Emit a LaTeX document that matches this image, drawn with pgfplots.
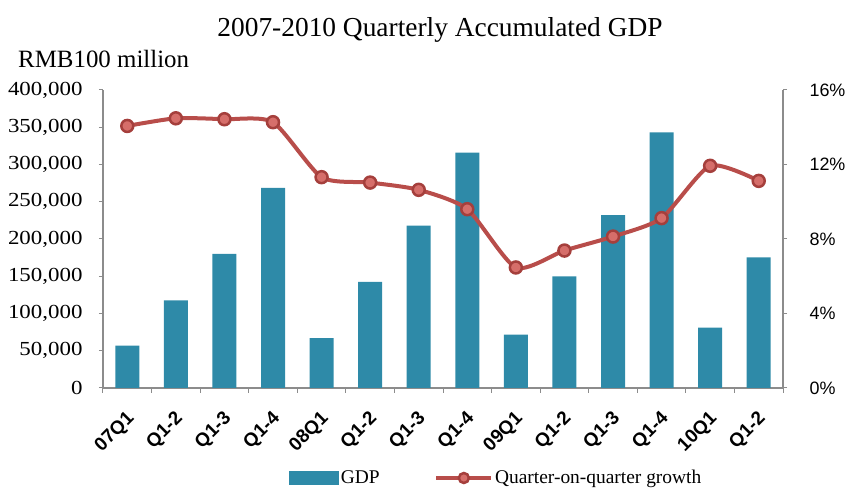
\documentclass[border=0pt]{standalone}
\usepackage{pgfplots}
\pgfplotsset{compat=1.18}
\usepackage{fontspec}
\setmainfont{Liberation Serif}
\setsansfont{Liberation Sans}
\newfontfamily\tickfont{Liberation Serif}[FakeStretch=1.15]
\definecolor{barcol}{HTML}{2E8AA8}
\definecolor{linecol}{HTML}{B84D4A}
\definecolor{markcol}{HTML}{A53F3C}
\definecolor{markfill}{HTML}{D66E6A}
\definecolor{axcol}{HTML}{8C8C8C}
\begin{document}
\begin{tikzpicture}[x=1bp,y=1bp]
\useasboundingbox (-103,-108) rectangle (746,388);
\begin{axis}[
  at={(0,0)}, anchor=south west,
  scale only axis, width=680bp, height=298bp,
  xmin=-0.5, xmax=13.5, ymin=0, ymax=400000,
  axis y line*=left, axis x line*=bottom,
  axis line style={axcol, line width=1.2bp, -},
  xtick={0,...,13},
  xticklabels={07Q1,Q1-2,Q1-3,Q1-4,08Q1,Q1-2,Q1-3,Q1-4,09Q1,Q1-2,Q1-3,Q1-4,10Q1,Q1-2},
  minor xtick={-0.5,0.5,...,13.5},
  major x tick style={draw=none},
  minor tick length=5bp,
  every minor tick/.style={axcol, line width=1bp},
  tick align=outside,
  ytick={0,50000,100000,150000,200000,250000,300000,350000,400000},
  yticklabels={0,{50,000},{100,000},{150,000},{200,000},{250,000},{300,000},{350,000},{400,000}},
  major tick length=4bp,
  every tick/.style={axcol, line width=1bp},
  scaled y ticks=false,
  yticklabel style={font=\tickfont\fontsize{20}{22}\selectfont, xshift=-13bp},
  xticklabel style={font=\sffamily\bfseries\fontsize{19}{21}\selectfont, rotate=45, anchor=east, inner sep=0pt, xshift=-14bp, yshift=-20bp},
  clip=false,
  legend style={at={(0.578,-0.302)}, anchor=center, draw=none, fill=none,
    legend columns=2, font=\fontsize{19.5}{21}\selectfont,
    /tikz/every even column/.append style={column sep=53bp},
    inner sep=0pt},
  legend cell align=left,
]
\addplot[ybar, bar width=24bp, fill=barcol, draw=none,
  legend image code/.code={\fill[barcol] (0bp,-7bp) rectangle (50bp,7bp);}]
  coordinates {(0,56800) (1,117600) (2,179900) (3,268500) (4,67000) (5,142300) (6,217900) (7,316000) (8,71500) (9,149800) (10,232000) (11,343000) (12,81000) (13,175300)};
\addlegendentry{GDP}
\addlegendimage{legend image code/.code={
  \draw[linecol, line width=3.5bp] (0bp,0bp) -- (55bp,0bp);
  \draw[markcol, fill=markfill, line width=2.5bp] (27.5bp,0bp) circle (5bp);}}
\addlegendentry{Quarter-on-quarter growth}
\end{axis}
\begin{axis}[
  at={(0,0)}, anchor=south west,
  scale only axis, width=680bp, height=298bp,
  xmin=-0.5, xmax=13.5, ymin=0, ymax=16,
  axis y line*=right, axis x line=none,
  axis line style={axcol, line width=1.2bp, -},
  ytick={0,4,8,12,16},
  yticklabels={0\%,4\%,8\%,12\%,16\%},
  tick align=outside,
  major tick length=4bp,
  every tick/.style={axcol, line width=1bp},
  yticklabel style={font=\sffamily\fontsize{18}{20}\selectfont, xshift=19bp},
  clip=false,
]
\addplot[linecol, line width=4bp, smooth, tension=0.4,
  mark=*, mark size=6bp, mark options={draw=markcol, fill=markfill, line width=2.5bp}]
  coordinates {(0,14.07) (1,14.48) (2,14.43) (3,14.27) (4,11.32) (5,11.03) (6,10.64) (7,9.60) (8,6.47) (9,7.38) (10,8.13) (11,9.12) (12,11.93) (13,11.12)};
\end{axis}
\node[font=\fontsize{27.5}{30}\selectfont, anchor=base] at (337,351) {2007-2010 Quarterly Accumulated GDP};
\node[font=\fontsize{25}{27}\selectfont, anchor=base west, inner sep=0pt] at (-85,320) {RMB100 million};
\end{tikzpicture}
\end{document}
